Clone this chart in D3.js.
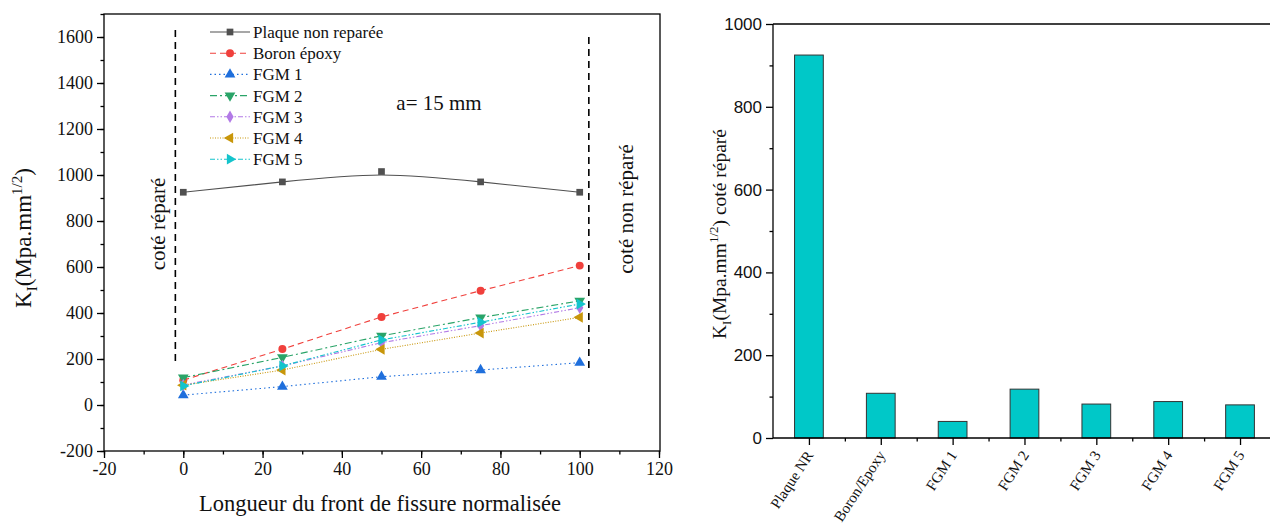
<!DOCTYPE html>
<html>
<head>
<meta charset="utf-8">
<script src="https://cdn.jsdelivr.net/npm/d3@7"></script>
<style>
  body { margin: 0; background: #fff; }
  svg { display: block; }
</style>
</head>
<body>
<svg id="chart" width="1270" height="525"></svg>
<script>
// left chart data
const positions = [0, 25, 50, 75, 100];
const plaqueNR = [925, 970, 1015, 970, 925];
const boronEpoxy = [108, 243, 383, 497, 606];
const fgm1 = [43, 80, 123, 152, 184];
const fgm2 = [119, 207, 301, 380, 453];
const fgm3 = [87, 170, 271, 345, 423];
const fgm4 = [86, 152, 242, 313, 381];
const fgm5 = [83, 170, 283, 360, 439];

// right chart data
const barCats = ["Plaque NR", "Boron/Epoxy", "FGM 1", "FGM 2", "FGM 3", "FGM 4", "FGM 5"];
const barVals = [925, 108, 40, 118, 82, 88, 80];

const xTicks = [-20, 0, 20, 40, 60, 80, 100, 120];
const yTicks = [-200, 0, 200, 400, 600, 800, 1000, 1200, 1400, 1600];
const yTicksR = [0, 200, 400, 600, 800, 1000];

const SERIF = '"Liberation Serif", "Times New Roman", serif';
const SANS = '"Liberation Sans", Arial, sans-serif';

const series = [
  {name: "Plaque non reparée", vals: plaqueNR, color: "#505050", dash: null, sym: d3.symbolSquare, size: 45, rot: 0, curve: d3.curveBasis},
  {name: "Boron époxy", vals: boronEpoxy, color: "#f0403c", dash: "6,4", sym: d3.symbolCircle, size: 50, rot: 0},
  {name: "FGM 1", vals: fgm1, color: "#1f6fdc", dash: "1.5,3", sym: d3.symbolTriangle, size: 50, rot: 0},
  {name: "FGM 2", vals: fgm2, color: "#2aa468", dash: "7,3,2,3", sym: d3.symbolTriangle, size: 50, rot: 180},
  {name: "FGM 3", vals: fgm3, color: "#b27ae6", dash: "5,2,1.5,2,1.5,2", sym: d3.symbolDiamond, size: 45, rot: 0},
  {name: "FGM 4", vals: fgm4, color: "#c8960a", dash: "1,1.5", sym: d3.symbolTriangle, size: 50, rot: -90},
  {name: "FGM 5", vals: fgm5, color: "#14c4cc", dash: "5,2,1.5,2,1.5,2", sym: d3.symbolTriangle, size: 50, rot: 90}
];

const svg = d3.select("#chart");

// draws minor + major ticks in separate groups
function drawAxis(parent, axisFn, scale, minor, major, fontFam, fontSize, withLabels) {
  parent.append("g")
    .call(axisFn(scale).tickValues(minor).tickSize(3.5).tickFormat(""))
    .call(g => g.select(".domain").remove())
    .selectAll("line").attr("stroke", "#000").attr("stroke-width", 1.3);
  const g = parent.append("g")
    .call(axisFn(scale).tickValues(major).tickSize(7).tickPadding(4)
      .tickFormat(withLabels ? (d => String(d)) : ""))
    .call(g => g.select(".domain").remove());
  g.selectAll("line").attr("stroke", "#000").attr("stroke-width", 1.3);
  g.selectAll("text").style("font-family", fontFam).style("font-size", fontSize).attr("fill", "#111");
  return g;
}

// ---------- left chart ----------
const L = {left: 104, right: 660, top: 14, bottom: 451};
const x = d3.scaleLinear().domain([-20, 120]).range([L.left, L.right - 1]);
const y = d3.scaleLinear().domain([-200, 1700]).range([L.bottom, L.top]);

const gl = svg.append("g");

gl.append("rect")
  .attr("x", L.left).attr("y", L.top)
  .attr("width", L.right - L.left).attr("height", L.bottom - L.top)
  .attr("fill", "none").attr("stroke", "#000").attr("stroke-width", 1.3);

drawAxis(gl.append("g").attr("transform", `translate(0,${L.bottom})`),
  d3.axisBottom, x, d3.range(-20, 121, 10), xTicks, SERIF, "18px", true);
drawAxis(gl.append("g").attr("transform", `translate(${L.left},0)`),
  d3.axisLeft, y, d3.range(-200, 1701, 100), yTicks, SERIF, "18px", true);

gl.append("text")
  .attr("x", (L.left + L.right) / 2 - 2).attr("y", 511)
  .attr("text-anchor", "middle").style("font-family", SERIF).style("font-size", "22.5px").attr("fill", "#111")
  .text("Longueur du front de fissure normalisée");

const ylab = gl.append("text")
  .attr("transform", `translate(31,${238}) rotate(-90)`)
  .attr("text-anchor", "middle").style("font-family", SERIF).style("font-size", "23px").attr("fill", "#111");
ylab.append("tspan").text("K");
ylab.append("tspan").attr("dy", 6).style("font-size", "15px").text("I");
ylab.append("tspan").attr("dy", -6).text("(Mpa.mm");
ylab.append("tspan").attr("dy", -9).style("font-size", "15px").text("1/2");
ylab.append("tspan").attr("dy", 9).text(")");

// dashed separators
gl.append("line")
  .attr("x1", x(-2)).attr("x2", x(-2)).attr("y1", y(1630)).attr("y2", y(178))
  .attr("stroke", "#000").attr("stroke-width", 1.6).attr("stroke-dasharray", "7,5");
gl.append("line")
  .attr("x1", x(102.3)).attr("x2", x(102.3)).attr("y1", y(1600)).attr("y2", y(150))
  .attr("stroke", "#000").attr("stroke-width", 1.6).attr("stroke-dasharray", "7,5");

gl.append("text")
  .attr("transform", `translate(165,${224}) rotate(-90)`)
  .attr("text-anchor", "middle").style("font-family", SERIF).style("font-size", "21px").attr("fill", "#111")
  .text("coté réparé");
gl.append("text")
  .attr("transform", `translate(633,${209}) rotate(-90)`)
  .attr("text-anchor", "middle").style("font-family", SERIF).style("font-size", "21px").attr("fill", "#111")
  .text("coté non réparé");

gl.append("text")
  .attr("x", 439).attr("y", 110).attr("text-anchor", "middle")
  .style("font-family", SERIF).style("font-size", "21px").attr("fill", "#111").text("a= 15 mm");

series.forEach(s => {
  const line = d3.line()
    .x((d, i) => x(positions[i]))
    .y(d => y(d))
    .curve(s.curve || d3.curveLinear);
  gl.append("path")
    .datum(s.vals)
    .attr("d", line)
    .attr("fill", "none")
    .attr("stroke", s.color)
    .attr("stroke-width", 1.1)
    .attr("stroke-dasharray", s.dash);
  gl.append("g").selectAll("path")
    .data(s.vals)
    .join("path")
    .attr("d", d3.symbol().type(s.sym).size(s.size))
    .attr("transform", (d, i) => `translate(${x(positions[i])},${y(d)}) rotate(${s.rot})`)
    .attr("fill", s.color);
});

// legend
const leg = gl.append("g").attr("transform", "translate(210,32)");
series.forEach((s, i) => {
  const row = leg.append("g").attr("transform", `translate(0,${i * 21.2})`);
  row.append("line").attr("x1", 0).attr("x2", 40).attr("y1", 0).attr("y2", 0)
    .attr("stroke", s.color).attr("stroke-width", 1.1).attr("stroke-dasharray", s.dash);
  row.append("path").attr("d", d3.symbol().type(s.sym).size(s.size))
    .attr("transform", `translate(20,0) rotate(${s.rot})`).attr("fill", s.color);
  row.append("text").attr("x", 43).attr("y", 6)
    .style("font-family", SERIF).style("font-size", "17px").attr("fill", "#111").text(s.name);
});

// ---------- right chart ----------
const R = {left: 773, top: 24, bottom: 438};
const xr = d3.scaleLinear().domain([0.5, 7.5]).range([R.left, R.left + 7 * 71.85]);
const yr = d3.scaleLinear().domain([0, 1000]).range([R.bottom, R.top]);
const step = xr(2) - xr(1);
const gr = svg.append("g");

gr.append("g").selectAll("rect")
  .data(barVals)
  .join("rect")
  .attr("x", (d, i) => xr(i + 1) - 0.2 * step)
  .attr("width", 0.4 * step)
  .attr("y", d => yr(d))
  .attr("height", d => yr(0) - yr(d))
  .attr("fill", "#00c8c8")
  .attr("stroke", "#333")
  .attr("stroke-width", 1);

gr.append("line").attr("x1", R.left).attr("x2", 1270).attr("y1", R.top).attr("y2", R.top)
  .attr("stroke", "#000").attr("stroke-width", 1.3);

const xrAxis = gr.append("g").attr("transform", `translate(0,${R.bottom})`);
drawAxis(xrAxis, d3.axisBottom, xr, d3.range(1.5, 7.6, 1), d3.range(1, 8), SERIF, "14px", false);
xrAxis.append("line").attr("x1", R.left).attr("x2", 1270).attr("stroke", "#000").attr("stroke-width", 1.3);
xrAxis.selectAll(".catlab")
  .data(barCats)
  .join("text")
  .attr("class", "catlab")
  .attr("text-anchor", "end")
  .attr("transform", (d, i) => `translate(${xr(i + 1) + 5},${17}) rotate(-57)`)
  .style("font-family", SERIF)
  .style("font-size", "15px")
  .attr("fill", "#111")
  .text(d => d);

const yrAxis = gr.append("g").attr("transform", `translate(${R.left},0)`);
drawAxis(yrAxis, d3.axisLeft, yr, d3.range(100, 1000, 200), yTicksR, SANS, "17px", true);
yrAxis.append("line").attr("y1", R.top).attr("y2", R.bottom).attr("stroke", "#000").attr("stroke-width", 1.3);

const ylabR = gr.append("text")
  .attr("transform", `translate(726,${234}) rotate(-90)`)
  .attr("text-anchor", "middle").style("font-family", SERIF).style("font-size", "19.5px").attr("fill", "#111");
ylabR.append("tspan").text("K");
ylabR.append("tspan").attr("dy", 5).style("font-size", "13px").text("I");
ylabR.append("tspan").attr("dy", -5).text("(Mpa.mm");
ylabR.append("tspan").attr("dy", -8).style("font-size", "13px").text("1/2");
ylabR.append("tspan").attr("dy", 8).text(") coté réparé");
</script>
</body>
</html>
